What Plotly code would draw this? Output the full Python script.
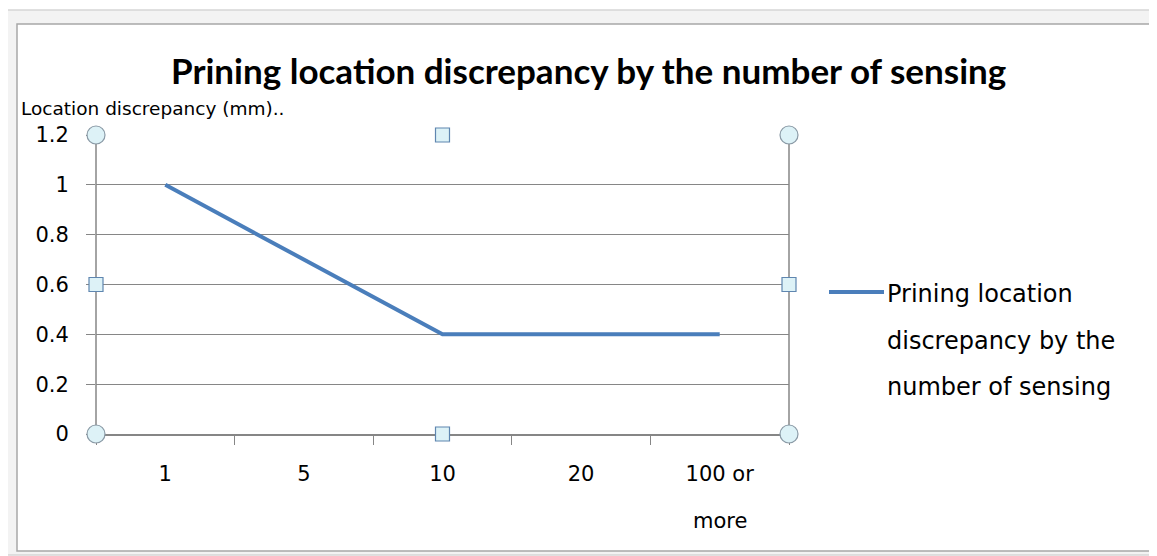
import plotly.graph_objects as go

categories = ["1", "5", "10", "20", "100 or more"]
tick_labels = ["1", "5", "10", "20", "100 or"]
tick_label_extra = "more"
values = [1.0, 0.7, 0.4, 0.4, 0.4]
series_name = "Prining location discrepancy by the number of sensing"
legend_lines = ["Prining location", "discrepancy by the", "number of sensing"]
title_text = "Prining location discrepancy by the number of sensing"
y_title = "Location discrepancy (mm).."

# page is offset by the 8px body margin; work in reference pixel coords
O = 8
VW, VH = 1157, 556
W, H = VW - O, VH - O
L, R, T, B = 96 - O, VW - 789, 135 - O, VH - 434
PW, PH = W - L - R, H - T - B


def px(x):
    return (x - O - L) / PW


def py(y):
    return (VH - B - y) / PH


fig = go.Figure()
fig.add_trace(go.Scatter(
    x=categories, y=values, mode="lines", name=series_name,
    line=dict(color="#4a7ebb", width=4), showlegend=False,
))

shapes = []
# window frame
shapes.append(dict(type="rect", xref="paper", yref="paper",
                   x0=px(6), x1=px(1156), y0=py(555), y1=py(10),
                   line=dict(color="#d6d6d6", width=1.5), fillcolor="#f3f3f3", layer="below"))
shapes.append(dict(type="rect", xref="paper", yref="paper",
                   x0=px(17), x1=px(1150), y0=py(551), y1=py(24),
                   line=dict(color="#a8a8a8", width=1.5), fillcolor="#ffffff", layer="below"))
# plot area border lines (left/right)
for xd in (0, 1):
    shapes.append(dict(type="line", xref="x domain", yref="y domain", x0=xd, x1=xd, y0=0, y1=1,
                       line=dict(color="#868686", width=1.5), layer="below"))
# legend key
shapes.append(dict(type="line", xref="paper", yref="paper",
                   x0=px(829), x1=px(884), y0=py(292), y1=py(292),
                   line=dict(color="#4a7ebb", width=4)))
# selection handles
handle_fill = "#ddf2f7"
for (xd, yd) in [(0, 0), (0, 1), (1, 0), (1, 1)]:
    shapes.append(dict(type="circle", xref="x domain", yref="y domain",
                       xsizemode="pixel", ysizemode="pixel", xanchor=xd, yanchor=yd,
                       x0=-9, x1=9, y0=-9, y1=9, line=dict(color="#8a9aa6", width=1.2),
                       fillcolor=handle_fill))
for (xd, yd) in [(0.5, 0), (0.5, 1), (0, 0.5), (1, 0.5)]:
    shapes.append(dict(type="rect", xref="x domain", yref="y domain",
                       xsizemode="pixel", ysizemode="pixel", xanchor=xd, yanchor=yd,
                       x0=-7, x1=7, y0=-7, y1=7, line=dict(color="#5f86b0", width=1.2),
                       fillcolor=handle_fill))

annotations = [
    dict(text=title_text, xref="paper", yref="paper", x=px(588), y=py(70),
         showarrow=False, xanchor="center", yanchor="middle",
         font=dict(family="Lato", size=35, color="#000000", weight="bold")),
    dict(text=y_title, xref="paper", yref="paper", x=px(19), y=py(108),
         showarrow=False, xanchor="left", yanchor="middle",
         font=dict(family="DejaVu Sans", size=18.5, color="#000000")),
    dict(text=tick_label_extra, x=categories[-1], xref="x", yref="paper", y=py(521),
         showarrow=False, xanchor="center", yanchor="middle",
         font=dict(family="DejaVu Sans", size=21, color="#000000")),
]
for i, line in enumerate(legend_lines):
    annotations.append(dict(text=line, xref="paper", yref="paper", x=px(885), y=py(294 + 46.5 * i),
                            showarrow=False, xanchor="left", yanchor="middle",
                            font=dict(family="DejaVu Sans", size=24, color="#000000")))

fig.update_layout(
    width=W, height=H,
    margin=dict(l=L, r=R, t=T, b=B, autoexpand=False),
    paper_bgcolor="white", plot_bgcolor="white",
    showlegend=False,
    shapes=shapes,
    annotations=annotations,
    font=dict(family="DejaVu Sans", size=21, color="#000000"),
    xaxis=dict(type="category", range=[-0.5, 4.5], tickson="boundaries",
               tickmode="array", tickvals=categories, ticktext=tick_labels,
               ticks="outside", ticklen=9, tickcolor="#868686", tickwidth=1.2,
               showgrid=False, showline=True, linecolor="#868686", linewidth=1.5,
               ticklabelstandoff=20, zeroline=False, fixedrange=True),
    yaxis=dict(range=[0, 1.2], dtick=0.2, tick0=0,
               ticks="outside", ticklen=9, tickcolor="#868686", tickwidth=1.2,
               showgrid=True, gridcolor="#868686", gridwidth=1.2,
               showline=False, zeroline=False,
               ticklabelstandoff=13, fixedrange=True),
)

fig.write_html("out.html")
